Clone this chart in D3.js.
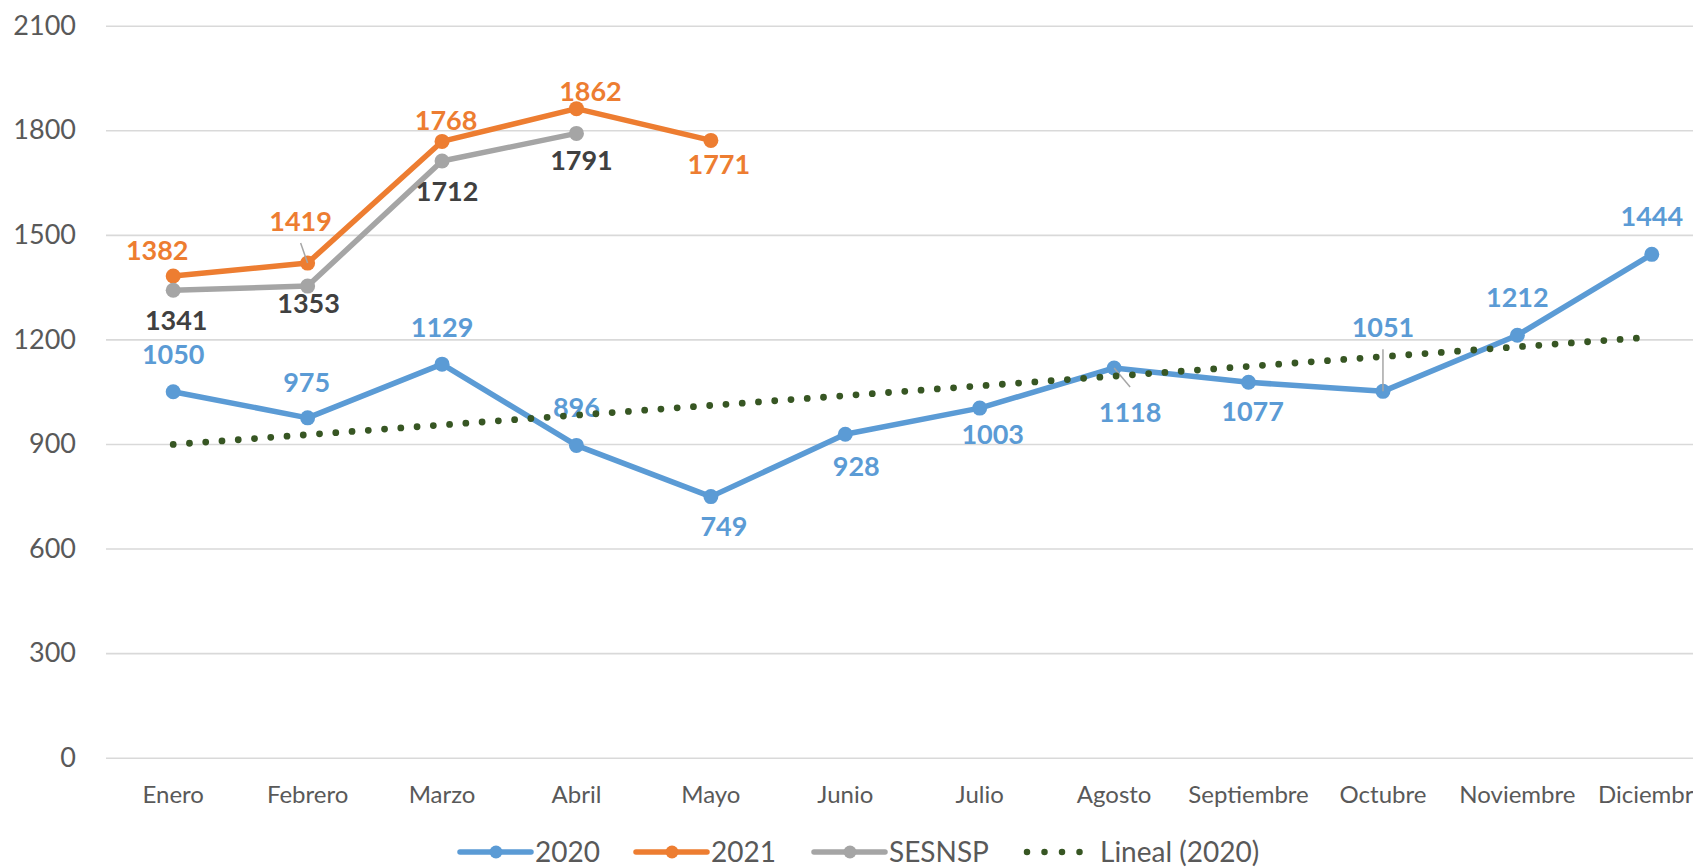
<!DOCTYPE html>
<html>
<head>
<meta charset="utf-8">
<script src="https://cdn.jsdelivr.net/npm/d3@7"></script>
<style>
  html, body { margin: 0; padding: 0; background: #ffffff; }
  svg { display: block; font-family: Lato, "Open Sans", sans-serif; }
</style>
</head>
<body>
<svg id="chart" width="1693" height="868"></svg>
<script>
// ---------- data ----------
const months = ["Enero", "Febrero", "Marzo", "Abril", "Mayo", "Junio", "Julio",
                "Agosto", "Septiembre", "Octubre", "Noviembre", "Diciembre"];
const values2020 = [1050, 975, 1129, 896, 749, 928, 1003, 1118, 1077, 1051, 1212, 1444];
const values2021 = [1382, 1419, 1768, 1862, 1771];
const valuesSESNSP = [1341, 1353, 1712, 1791];
const yTicks = [0, 300, 600, 900, 1200, 1500, 1800, 2100];
const seriesNames = ["2020", "2021", "SESNSP", "Lineal (2020)"];

// ---------- layout (label nudges, px relative to the point) ----------
const offs2020 = [[0,-37],[-1,-36],[0,-37],[0,-38],[13,30],[11,32],[13,26],[16,44],[4,29],[0,-64],[0,-38],[0,-38]];
const offs2021 = [[-16,-26],[-7,-42],[4,-21],[14,-17],[8,24]];
const offsSESNSP = [[3,30],[1,17],[5,30],[5,27]];
const leaders = [ // [series, index]
  ["2021", 1], ["2020", 7], ["2020", 9]
];
const legendStarts = [460, 636, 814, 1025];

const W = 1693, H = 868;
const plotL = 106, plotR = 1719, plotT = 25.7, plotB = 757.7;
const C = { s2020: "#5B9BD5", s2021: "#ED7D31", sSES: "#A5A5A5", lblSES: "#404040",
            trend: "#375623", grid: "#D9D9D9", axisText: "#595959", leader: "#A6A6A6" };

const svg = d3.select("#chart");
svg.append("rect").attr("width", W).attr("height", H).attr("fill", "#fff");

const x = d3.scaleBand().domain(months).range([plotL, plotR]).paddingInner(0).paddingOuter(0);
const cx = m => x(m) + x.bandwidth() / 2;
const y = d3.scaleLinear().domain([0, 2100]).range([plotB, plotT]);

// y axis with gridlines
const yAxis = svg.append("g")
  .attr("transform", `translate(${plotL},0)`)
  .call(d3.axisLeft(y).tickValues(yTicks).tickFormat(d3.format("d"))
        .tickSize(-(plotR - plotL)).tickPadding(30));
yAxis.select(".domain").remove();
yAxis.selectAll(".tick line").attr("stroke", C.grid).attr("stroke-width", 1.6);
yAxis.selectAll(".tick text").attr("fill", C.axisText).attr("font-size", 27)
  .attr("font-family", "Lato, sans-serif");

// x axis labels
const xAxis = svg.append("g")
  .attr("transform", `translate(0,${plotB})`)
  .call(d3.axisBottom(x).tickSize(0).tickPadding(28));
xAxis.select(".domain").remove();
xAxis.selectAll(".tick text").attr("fill", C.axisText).attr("font-size", 24)
  .attr("font-family", "Lato, sans-serif");

// series
const s2020 = values2020.map((v, i) => ({ m: months[i], v, off: offs2020[i] }));
const s2021 = values2021.map((v, i) => ({ m: months[i], v, off: offs2021[i] }));
const sSES = valuesSESNSP.map((v, i) => ({ m: months[i], v, off: offsSESNSP[i] }));

const line = d3.line().x(d => cx(d.m)).y(d => y(d.v));

function drawSeries(data, color) {
  const g = svg.append("g");
  g.append("path").datum(data).attr("d", line).attr("fill", "none")
    .attr("stroke", color).attr("stroke-width", 5.5).attr("stroke-linejoin", "round")
    .attr("stroke-linecap", "round");
  g.selectAll("circle").data(data).join("circle")
    .attr("cx", d => cx(d.m)).attr("cy", d => y(d.v)).attr("r", 7.5).attr("fill", color);
}
drawSeries(s2020, C.s2020);
drawSeries(s2021, C.s2021);
drawSeries(sSES, C.sSES);

// leader lines
const seriesMap = { "2020": s2020, "2021": s2021, "SESNSP": sSES };
leaders.forEach(([s, i]) => {
  const d = seriesMap[s][i];
  const px = cx(d.m), py = y(d.v);
  const lx = px + d.off[0], ly = py + d.off[1] + (d.off[1] < 0 ? 22 : -25);
  svg.append("line").attr("x1", px).attr("y1", py).attr("x2", lx).attr("y2", ly)
    .attr("stroke", C.leader).attr("stroke-width", 1.5);
});

// data labels
function drawLabels(data, color) {
  svg.append("g").selectAll("text").data(data).join("text")
    .attr("x", d => cx(d.m) + d.off[0])
    .attr("y", d => y(d.v) + d.off[1])
    .attr("dy", "0.36em")
    .attr("text-anchor", "middle")
    .attr("font-size", 27).attr("font-weight", "bold")
    .attr("fill", color)
    .text(d => d.v);
}
drawLabels(s2020, C.s2020);
drawLabels(s2021, C.s2021);
drawLabels(sSES, C.lblSES);

// linear trend (least squares on 2020 series)
const n = values2020.length;
const xs = d3.range(1, n + 1);
const mx = d3.mean(xs), my = d3.mean(values2020);
const slope = d3.sum(xs, (xi, i) => (xi - mx) * (values2020[i] - my)) / d3.sum(xs, xi => (xi - mx) ** 2);
const icpt = my - slope * mx;
const trend = months.map((m, i) => ({ m, v: icpt + slope * (i + 1) }));
svg.append("path").datum(trend).attr("d", line).attr("fill", "none")
  .attr("stroke", C.trend).attr("stroke-width", 6.8)
  .attr("stroke-linecap", "round").attr("stroke-dasharray", "0 16.3");

// legend
const legend = svg.append("g").attr("transform", "translate(0,852)");
const legItems = [
  { name: seriesNames[0], color: C.s2020, type: "marker" },
  { name: seriesNames[1], color: C.s2021, type: "marker" },
  { name: seriesNames[2], color: C.sSES, type: "marker" },
  { name: seriesNames[3], color: C.trend, type: "dots" }
];
legItems.forEach((it, i) => {
  const g = legend.append("g").attr("transform", `translate(${legendStarts[i]},0)`);
  if (it.type === "marker") {
    g.append("line").attr("x1", 0).attr("x2", 71).attr("y1", 0).attr("y2", 0)
      .attr("stroke", it.color).attr("stroke-width", 5.5).attr("stroke-linecap", "round");
    g.append("circle").attr("cx", 36).attr("cy", 0).attr("r", 6.5).attr("fill", it.color);
  } else {
    g.append("line").attr("x1", 2).attr("x2", 72).attr("y1", 0).attr("y2", 0)
      .attr("stroke", it.color).attr("stroke-width", 6.5).attr("stroke-linecap", "round")
      .attr("stroke-dasharray", "0 17.5");
  }
  g.append("text").attr("x", 75).attr("y", 0).attr("dy", "0.36em")
    .attr("font-size", 28).attr("fill", C.axisText).text(it.name);
});
</script>
</body>
</html>
